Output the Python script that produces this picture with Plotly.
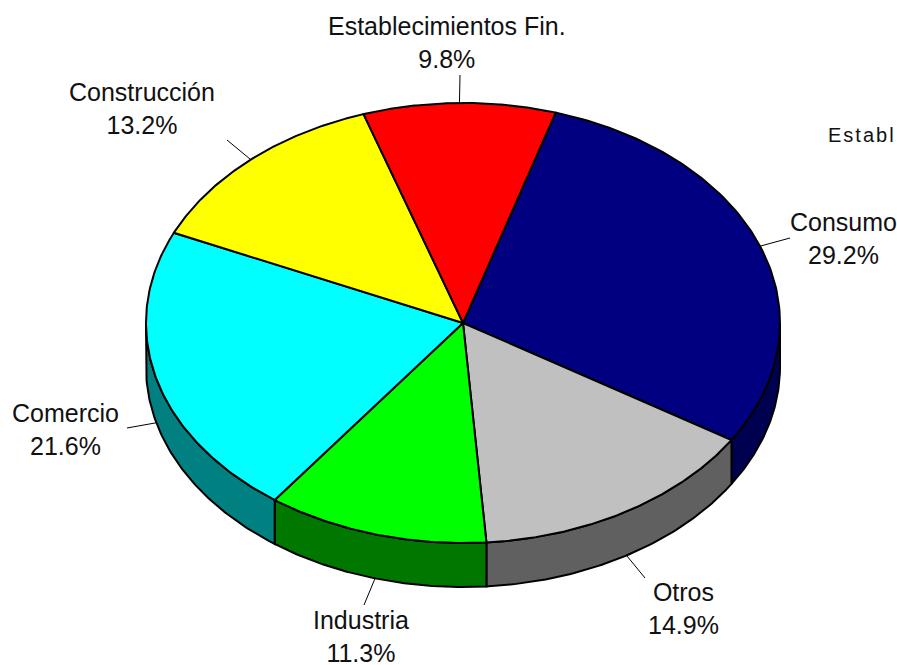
import numpy as np
import plotly.graph_objects as go

categories = ["Consumo", "Otros", "Industria", "Comercio", "Construcción", "Establecimientos Fin."]
shares = [29.2, 14.9, 11.3, 21.6, 13.2, 9.8]
top_colors = ["#000080", "#C0C0C0", "#00FF00", "#00FFFF", "#FFFF00", "#FF0000"]
side_colors = ["#000050", "#606060", "#007800", "#008080", "#808000", "#800000"]
label_centers = [(843, 238), (683, 608), (361, 636), (65, 429), (142, 108), (447, 42)]
leader_ends = [(790, 238), (645, 578), (364, 605), (127, 428), (227, 140), (460, 75)]
stray_label = "Establ"

CX, CY, RX, RY, DEPTH, START = 463, 323, 317, 220, 44, 17


def rim(t, dy=0):
    r = np.radians(t)
    return CX + RX * np.sin(r), CY - RY * np.cos(r) + dy


fig = go.Figure()
edges = START + np.concatenate([[0], np.cumsum(shares)]) * 3.6

# sides (visible lower half of the drum)
for i in range(len(shares)):
    a, b = max(edges[i], 90), min(edges[i + 1], 270)
    if a >= b:
        continue
    t = np.linspace(a, b, 80)
    x1, y1 = rim(t)
    x2, y2 = rim(t[::-1], DEPTH)
    fig.add_trace(go.Scatter(x=np.r_[x1, x2, x1[0]], y=np.r_[y1, y2, y1[0]], mode="lines",
                             fill="toself", fillcolor=side_colors[i],
                             line=dict(color="black", width=2), hoverinfo="skip"))

# leader lines
for i, (ex, ey) in enumerate(leader_ends):
    mid = (edges[i] + edges[i + 1]) / 2
    sx, sy = rim(mid, DEPTH if 90 < mid < 270 else 0)
    fig.add_trace(go.Scatter(x=[sx, ex], y=[sy, ey], mode="lines",
                             line=dict(color="black", width=1), hoverinfo="skip"))

# top faces
for i in range(len(shares)):
    t = np.linspace(edges[i], edges[i + 1], 120)
    x, y = rim(t)
    fig.add_trace(go.Scatter(x=np.r_[CX, x, CX], y=np.r_[CY, y, CY], mode="lines",
                             fill="toself", fillcolor=top_colors[i],
                             line=dict(color="black", width=2), hoverinfo="skip"))

for name, v, (lx, ly) in zip(categories, shares, label_centers):
    fig.add_annotation(x=lx, y=ly, text=f"{name}<br>{v:.1f}%", showarrow=False,
                       xanchor="center", yanchor="middle", align="center",
                       font=dict(family="Liberation Sans", size=25, color="#111111"))
fig.add_annotation(x=862, y=135, text=stray_label, showarrow=False, xanchor="center", yanchor="middle",
                   font=dict(family="Liberation Sans", size=20, color="#111111"))

fig.update_layout(width=897, height=665, margin=dict(l=0, r=0, t=0, b=0), showlegend=False,
                  paper_bgcolor="white", plot_bgcolor="white",
                  xaxis=dict(range=[0, 897], visible=False, fixedrange=True),
                  yaxis=dict(range=[665, 0], visible=False, fixedrange=True))
fig.write_html("out.html", config={"displayModeBar": False},
               post_script="""document.body.style.margin='0';
document.querySelectorAll('.annotation-text').forEach(function(t){
  if(t.textContent==='Establ'){t.style.letterSpacing='2px';}
});""")
